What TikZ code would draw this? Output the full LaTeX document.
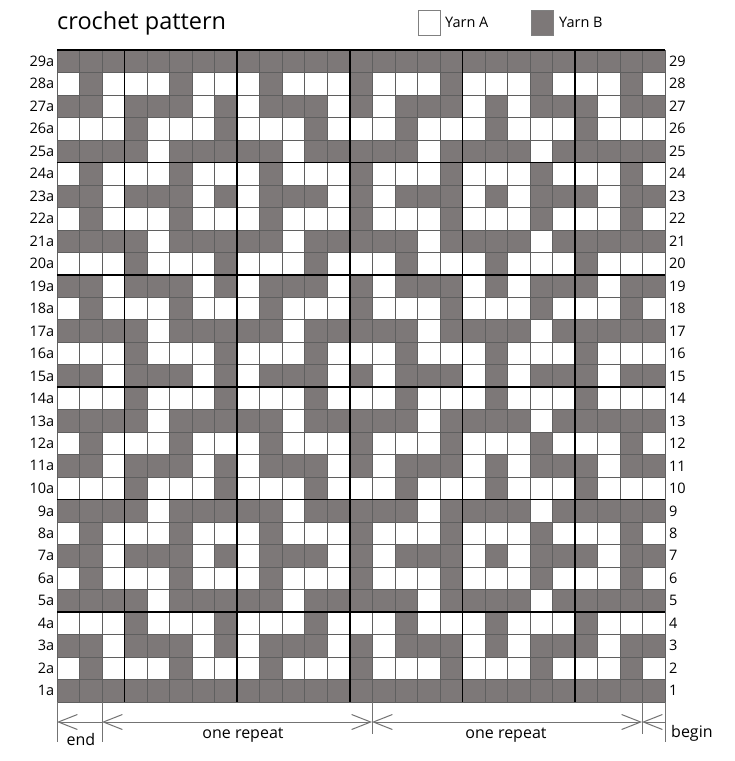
\documentclass[tikz,border=0pt]{standalone}
\usepackage{fontspec}
\setmainfont{Open Sans}
\usetikzlibrary{arrows.meta}
\definecolor{yarnb}{RGB}{125,120,120}
\definecolor{gridthin}{RGB}{95,95,95}
\definecolor{dimgray}{RGB}{115,115,115}
\def\pF{1,1,1,1,1,1,1,1,1,1,1,1,1,1,1,1,1,1,1,1,1,1,1,1,1,1,1}
\def\pA{0,1,0,0,0,1,0,0,0,1,0,0,0,1,0,0,0,1,0,0,0,1,0,0,0,1,0}
\def\pB{1,1,0,1,1,1,0,1,0,1,1,1,0,1,0,1,1,1,0,1,0,1,1,1,0,1,1}
\def\pC{0,0,0,1,0,0,0,1,0,0,0,1,0,0,0,1,0,0,0,1,0,0,0,1,0,0,0}
\def\pD{1,1,1,1,0,1,1,1,1,1,0,1,1,1,1,1,0,1,1,1,1,0,1,1,1,1,1}
\newcommand\crochetrow[2]{%
  \foreach \v [count=\c from 0] in #2 {%
    \ifnum\v=1 \fill[yarnb] ({57+\c*22.52},{50+#1*22.48}) rectangle ++(22.52,22.48);\fi
  }%
}
\begin{document}
\begin{tikzpicture}[x=1pt,y=-1pt,
  rowlab/.style={font=\fontsize{14.5}{14.5}\selectfont, inner sep=0pt},
  dimlab/.style={font=\fontsize{16}{16}\selectfont, inner sep=0pt},
  dimline/.style={draw=dimgray, line width=0.8pt},
  dimarrow/.style={draw=dimgray, line width=0.8pt},
  tip/.tip={Straight Barb[length=19pt,width=15pt,line width=1pt]},
  thinline/.style={draw=gridthin, line width=0.6pt},
  thickline/.style={draw=black, line width=1.7pt},
  legbox/.style={draw=gray, line width=0.8pt, minimum width=22pt, minimum height=25pt, inner sep=0pt}
]
\useasboundingbox (0,0) rectangle (735,761);
\fill[white] (0,0) rectangle (735,761);
% cells
\crochetrow{0}{\pF}
\crochetrow{1}{\pA}
\crochetrow{2}{\pB}
\crochetrow{3}{\pC}
\crochetrow{4}{\pD}
\crochetrow{5}{\pA}
\crochetrow{6}{\pB}
\crochetrow{7}{\pA}
\crochetrow{8}{\pD}
\crochetrow{9}{\pC}
\crochetrow{10}{\pB}
\crochetrow{11}{\pA}
\crochetrow{12}{\pD}
\crochetrow{13}{\pC}
\crochetrow{14}{\pB}
\crochetrow{15}{\pC}
\crochetrow{16}{\pD}
\crochetrow{17}{\pA}
\crochetrow{18}{\pB}
\crochetrow{19}{\pC}
\crochetrow{20}{\pD}
\crochetrow{21}{\pA}
\crochetrow{22}{\pB}
\crochetrow{23}{\pA}
\crochetrow{24}{\pD}
\crochetrow{25}{\pC}
\crochetrow{26}{\pB}
\crochetrow{27}{\pA}
\crochetrow{28}{\pF}
% thin grid
\foreach \k in {0,...,27} \draw[thinline] ({57+\k*22.52},50) -- ({57+\k*22.52},702);
\foreach \k in {0,...,29} \draw[thinline] (57,{50+\k*22.48}) -- (665,{50+\k*22.48});
% thick grid
\foreach \k in {3,8,13,18,23} \draw[thickline] ({57+\k*22.52},50) -- ({57+\k*22.52},702);
\foreach \k in {5,10,15,20,25} \draw[thickline] (57,{50+\k*22.48}) -- (665,{50+\k*22.48});
\draw[draw=black, line width=1.2pt] (57,50) -- (665,50);
% row labels
\foreach \r in {1,...,29} {
  \node[rowlab, anchor=east] (l\r) at (54.5,{50+(29-\r)*22.48+11.24}) {\r a};
  \node[rowlab, anchor=west] (r\r) at (669,{50+(29-\r)*22.48+11.24}) {\r};
}
% title and legend
\node[anchor=base west, inner sep=0pt, font=\fontsize{23.5}{23.5}\selectfont] (title) at (57,29) {crochet pattern};
\node[legbox, fill=white, anchor=north west] (boxa) at (418,10) {};
\node[anchor=west, inner sep=0pt, font=\fontsize{14.5}{14.5}\selectfont] (txta) at (445,22) {Yarn A};
\node[legbox, fill=yarnb, anchor=north west] (boxb) at (531,10) {};
\node[anchor=west, inner sep=0pt, font=\fontsize{14.5}{14.5}\selectfont] (txtb) at (559,22) {Yarn B};
% dimension lines
\coordinate (e0) at (57,702);  \coordinate (e0b) at (57,742);
\coordinate (e1) at (102,702); \coordinate (e1b) at (102,742);
\coordinate (e2) at (372,702); \coordinate (e2b) at (372,734);
\coordinate (e3) at (642,702); \coordinate (e3b) at (642,734);
\coordinate (e4) at (665,702); \coordinate (e4b) at (665,742);
\foreach \i in {0,...,4} \draw[dimline] (e\i) -- (e\i b);
\coordinate (a0) at (57,722);
\coordinate (a1) at (102,722);
\coordinate (a2) at (372,722);
\coordinate (a3) at (642,722);
\coordinate (a4) at (665,722);
\draw[dimarrow, {tip}-] (a0) -- (a1);
\draw[dimarrow, {tip}-{tip}] (a1) -- (a2);
\draw[dimarrow, {tip}-{tip}] (a2) -- (a3);
\draw[dimarrow, {tip}-] (a3) -- (a4);
\node[dimlab] (lend) at (81,739) {end};
\node[dimlab] (lrep1) at (243,735) {one repeat};
\node[dimlab] (lrep2) at (506,735) {one repeat};
\node[dimlab, anchor=west] (lbegin) at (671,733) {begin};
\end{tikzpicture}
\end{document}
